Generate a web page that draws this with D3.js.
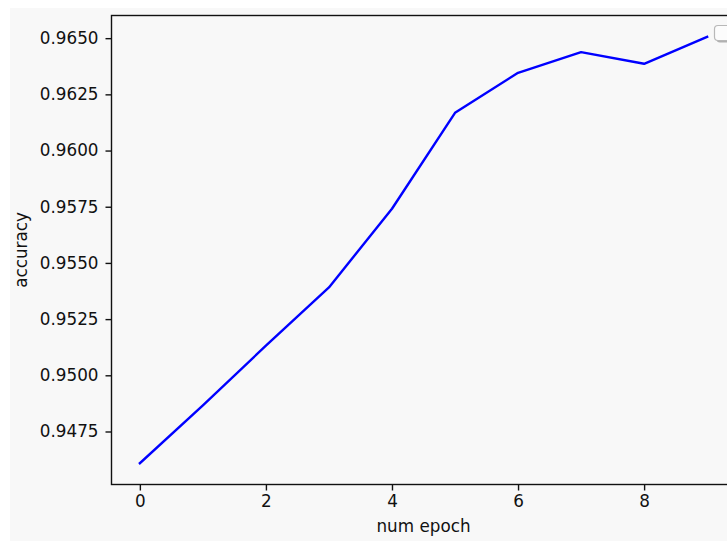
<!DOCTYPE html>
<html>
<head>
<meta charset="utf-8">
<script src="https://cdn.jsdelivr.net/npm/d3@7"></script>
<style>
  html, body { margin: 0; padding: 0; background: #ffffff; }
  svg { display: block; }
  text { font-family: "DejaVu Sans", sans-serif; fill: #111111; }
</style>
</head>
<body>
<svg id="chart" width="727" height="541"></svg>
<script>
// ---- data ----
const epochs = [0, 1, 2, 3, 4, 5, 6, 7, 8, 9];
const accuracy = [0.94609, 0.94866, 0.95132, 0.95391, 0.95741, 0.96168, 0.96346, 0.96438, 0.96386, 0.96506];
const xTicks = [0, 2, 4, 6, 8];
const yTicks = [0.9475, 0.9500, 0.9525, 0.9550, 0.9575, 0.9600, 0.9625, 0.9650];
const xLabel = "num epoch";
const yLabel = "accuracy";

// ---- layout ----
const W = 727, H = 541;
const plot = { left: 111.5, right: 735.5, top: 15.5, bottom: 484.5 };
const fontSize = 16.8;

const svg = d3.select("#chart");

// figure background
svg.append("rect").attr("x", 10).attr("y", 8).attr("width", W - 10).attr("height", H - 8)
  .attr("fill", "#f8f8f8");

// scales with matplotlib-like 5% margins
const xExt = d3.extent(epochs), xr = xExt[1] - xExt[0];
const yExt = d3.extent(accuracy), yr = yExt[1] - yExt[0];
const x = d3.scaleLinear().domain([xExt[0] - 0.05 * xr, xExt[1] + 0.05 * xr]).range([plot.left, plot.right]);
const y = d3.scaleLinear().domain([yExt[0] - 0.05 * yr, yExt[1] + 0.05 * yr]).range([plot.bottom, plot.top]);

// line
const line = d3.line().x((d, i) => x(epochs[i])).y(d => y(d));
svg.append("path").datum(accuracy)
  .attr("d", line)
  .attr("fill", "none")
  .attr("stroke", "#0000ff")
  .attr("stroke-width", 2.4)
  .attr("stroke-linejoin", "round")
  .attr("stroke-linecap", "square");

// axes
const xAxis = d3.axisBottom(x).tickValues(xTicks).tickFormat(d3.format("d")).tickSize(6).tickPadding(5);
const yAxis = d3.axisLeft(y).tickValues(yTicks).tickFormat(d3.format(".4f")).tickSize(6).tickPadding(7);

const gx = svg.append("g").attr("transform", `translate(0,${plot.bottom})`).call(xAxis);
const gy = svg.append("g").attr("transform", `translate(${plot.left},0)`).call(yAxis);
[gx, gy].forEach(g => {
  g.select(".domain").remove();
  g.selectAll(".tick line").attr("stroke", "#111").attr("stroke-width", 1.4);
  g.selectAll(".tick text").attr("font-size", fontSize).attr("font-family", "DejaVu Sans").attr("fill", "#111");
});

// spines
svg.append("rect")
  .attr("x", plot.left).attr("y", plot.top)
  .attr("width", plot.right - plot.left).attr("height", plot.bottom - plot.top)
  .attr("fill", "none").attr("stroke", "#111").attr("stroke-width", 1.4);

// axis labels
svg.append("text")
  .attr("x", (plot.left + plot.right) / 2).attr("y", 532)
  .attr("text-anchor", "middle").attr("font-size", fontSize)
  .text(xLabel);
svg.append("text")
  .attr("transform", `translate(27,${(plot.top + plot.bottom) / 2}) rotate(-90)`)
  .attr("text-anchor", "middle").attr("font-size", fontSize)
  .text(yLabel);

// empty legend box (top-right, partially cut)
svg.append("rect").attr("x", 716.5).attr("y", 27.5).attr("width", 24).attr("height", 15)
  .attr("rx", 3.5).attr("fill", "#777").attr("opacity", 0.55);
svg.append("rect").attr("x", 714.5).attr("y", 25.5).attr("width", 24).attr("height", 15)
  .attr("rx", 3.5).attr("fill", "#fcfcfc").attr("stroke", "#b8b8b8").attr("stroke-width", 1.2);
</script>
</body>
</html>
